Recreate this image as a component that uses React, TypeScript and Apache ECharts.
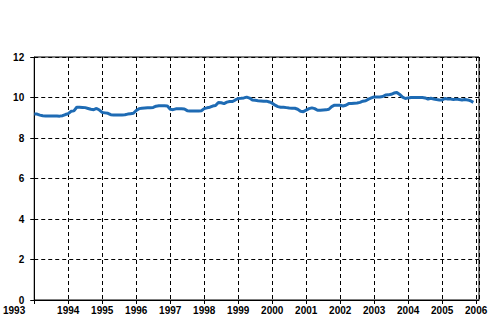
import React, { useEffect, useRef } from "react";
import * as echarts from "echarts";

const startYear = 1993;
const tickYears = [1993, 1994, 1995, 1996, 1997, 1998, 1999, 2000, 2001, 2002, 2003, 2004, 2005, 2006];
const yTicks = [0, 2, 4, 6, 8, 10, 12];

// Monthly values, January..December
const v1993 = [9.18, 9.18, 9.13, 9.1, 9.09, 9.09, 9.09, 9.09, 9.09, 9.08, 9.1, 9.16];
const v1994 = [9.2, 9.32, 9.34, 9.52, 9.52, 9.51, 9.5, 9.46, 9.42, 9.4, 9.46, 9.38];
const v1995 = [9.26, 9.24, 9.22, 9.15, 9.14, 9.14, 9.13, 9.14, 9.15, 9.18, 9.2, 9.22];
const v1996 = [9.36, 9.45, 9.47, 9.48, 9.49, 9.49, 9.51, 9.57, 9.59, 9.59, 9.59, 9.58];
const v1997 = [9.42, 9.4, 9.44, 9.44, 9.44, 9.43, 9.35, 9.33, 9.33, 9.33, 9.33, 9.35];
const v1998 = [9.45, 9.49, 9.52, 9.58, 9.6, 9.75, 9.74, 9.7, 9.77, 9.8, 9.8, 9.88];
const v1999 = [9.95, 9.96, 9.98, 10.02, 9.97, 9.88, 9.86, 9.84, 9.83, 9.82, 9.82, 9.78];
const v2000 = [9.72, 9.62, 9.55, 9.52, 9.52, 9.5, 9.48, 9.47, 9.47, 9.42, 9.32, 9.3];
const v2001 = [9.38, 9.45, 9.49, 9.45, 9.37, 9.37, 9.38, 9.39, 9.42, 9.55, 9.62, 9.62];
const v2002 = [9.62, 9.58, 9.62, 9.7, 9.7, 9.72, 9.73, 9.76, 9.82, 9.84, 9.92, 9.98];
const v2003 = [10.03, 10.03, 10.03, 10.05, 10.12, 10.13, 10.16, 10.22, 10.25, 10.15, 10.02, 9.95];
const v2004 = [9.98, 10.0, 10.0, 10.0, 10.0, 10.0, 9.98, 9.92, 9.96, 9.93, 9.9, 9.88];
const v2005 = [9.88, 9.95, 9.92, 9.92, 9.9, 9.92, 9.9, 9.88, 9.9, 9.88, 9.84, 9.76];

const yearly = [v1993, v1994, v1995, v1996, v1997, v1998, v1999, v2000, v2001, v2002, v2003, v2004, v2005];

export default function App() {
  const ref = useRef<HTMLDivElement>(null);
  useEffect(() => {
    if (!ref.current) return;
    const chart = echarts.init(ref.current, null, { renderer: "svg" });
    const data: [number, number][] = [];
    yearly.forEach((arr, yi) => {
      arr.forEach((v, m) => data.push([startYear + yi + m / 12, v]));
    });
    const font = {
      fontFamily: "Liberation Sans",
      fontWeight: "bold" as const,
      fontSize: 10,
      lineHeight: 10,
      color: "#000",
    };
    chart.setOption({
      animation: false,
      backgroundColor: "#fff",
      grid: {
        left: 29,
        right: 18,
        top: 57,
        bottom: 36,
        show: true,
        borderColor: "#000",
        borderWidth: 1,
        containLabel: false,
      },
      xAxis: {
        type: "value",
        min: tickYears[0],
        max: tickYears[tickYears.length - 1] + 1 / 12,
        interval: 1,
        axisLine: { show: true, lineStyle: { color: "#000", width: 1 } },
        axisTick: { show: true, length: 4, lineStyle: { color: "#000" } },
        splitLine: { show: true, lineStyle: { color: "#000", type: [4, 3], width: 1 } },
        axisLabel: {
          ...font,
          margin: 5,
          showMinLabel: true,
          showMaxLabel: false,
          alignMinLabel: "right",
          formatter: (v: number) => {
            const r = Math.round(v);
            if (Math.abs(v - r) > 1e-6 || !tickYears.includes(r)) return "";
            return r === tickYears[0] ? "{first|" + r + "}" : String(r);
          },
          rich: {
            first: { ...font, padding: [0, 9, 0, 0] },
          },
        },
      },
      yAxis: {
        type: "value",
        min: yTicks[0],
        max: yTicks[yTicks.length - 1],
        interval: 2,
        axisLine: { show: true, lineStyle: { color: "#000", width: 1 } },
        axisTick: { show: true, length: 4, lineStyle: { color: "#000" } },
        splitLine: { show: true, lineStyle: { color: "#000", type: [4, 3], width: 1 } },
        axisLabel: { ...font, margin: 10 },
      },
      series: [
        {
          type: "line",
          data,
          showSymbol: false,
          symbol: "none",
          lineStyle: { color: "#1e6bb4", width: 3 },
          z: 5,
        },
      ],
    });
    return () => chart.dispose();
  }, []);
  return <div ref={ref} style={{ width: 497, height: 336, position: "absolute", left: 0, top: 0 }} />;
}
